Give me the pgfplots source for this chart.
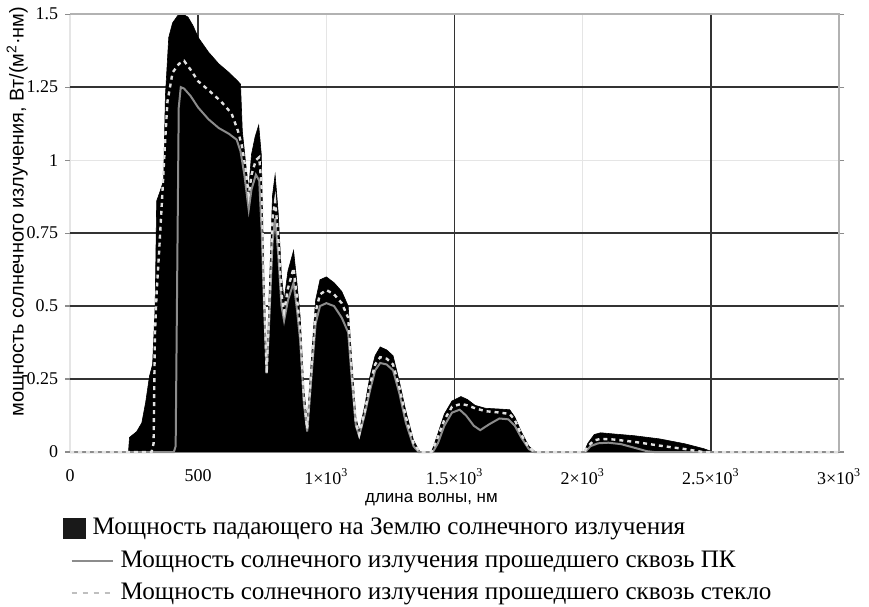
\documentclass[border=0pt]{standalone}
\usepackage{fontspec}
\setmainfont{Liberation Serif}
\setsansfont{Liberation Sans}
\usepackage{pgfplots}
\usepackage{pgfplotstable}
\pgfplotsset{compat=1.18}
\usetikzlibrary{calc}

% Solar spectral irradiance at ground level, W/(m^2 nm)
\pgfplotstableread{
x y
0 0
228 0
232 0.05
260 0.07
280 0.10
295 0.17
310 0.26
322 0.30
332 0.50
338 0.86
350 0.89
365 0.93
372 1.22
385 1.42
400 1.47
420 1.495
440 1.50
460 1.49
480 1.46
500 1.42
540 1.37
580 1.33
620 1.30
655 1.27
665 1.26
672 1.10
685 0.99
697 0.90
708 1.02
722 1.08
736 1.12
746 1.02
756 0.62
767 0.29
777 0.55
790 0.88
800 0.95
812 0.82
825 0.60
835 0.52
850 0.62
872 0.69
885 0.58
898 0.46
912 0.22
925 0.10
940 0.30
958 0.52
975 0.59
1000 0.60
1030 0.58
1060 0.55
1085 0.50
1100 0.30
1115 0.12
1128 0.07
1150 0.16
1170 0.26
1190 0.33
1210 0.36
1235 0.35
1260 0.33
1285 0.24
1310 0.14
1340 0.04
1365 0
1410 0
1430 0.05
1460 0.13
1490 0.175
1525 0.19
1550 0.18
1580 0.16
1620 0.15
1680 0.147
1715 0.145
1735 0.12
1760 0.07
1790 0.02
1815 0
2005 0
2020 0.03
2045 0.06
2070 0.066
2120 0.062
2200 0.056
2300 0.045
2400 0.028
2470 0.012
2510 0
3000 0
}\sun

% Transmitted through glass
\pgfplotstableread{
x y
0 0
318 0
326 0.03
331 0.40
338 0.55
347 0.68
358 0.85
370 1.05
380 1.20
400 1.30
425 1.33
445 1.34
470 1.31
500 1.27
540 1.24
590 1.20
630 1.16
655 1.10
670 1.05
685 0.97
697 0.88
708 0.95
725 1.00
738 1.01
748 0.90
757 0.55
767 0.27
777 0.50
790 0.80
800 0.86
812 0.74
825 0.54
835 0.48
850 0.56
872 0.63
885 0.53
898 0.42
912 0.19
925 0.08
940 0.27
958 0.48
975 0.54
1000 0.555
1030 0.54
1060 0.51
1085 0.46
1100 0.27
1115 0.10
1128 0.06
1150 0.14
1170 0.23
1190 0.30
1210 0.325
1235 0.32
1260 0.30
1285 0.22
1310 0.12
1340 0.03
1365 0
1410 0
1430 0.04
1460 0.11
1490 0.155
1525 0.165
1550 0.16
1580 0.15
1620 0.14
1680 0.135
1715 0.13
1735 0.11
1760 0.06
1790 0.015
1815 0
2005 0
2020 0.02
2045 0.04
2070 0.045
2120 0.043
2200 0.035
2300 0.022
2400 0.01
2470 0
3000 0
}\glass

% Transmitted through polycarbonate
\pgfplotstableread{
x y
0 0
405 0
412 0.02
418 0.60
424 1.18
432 1.25
445 1.245
470 1.22
500 1.18
540 1.14
580 1.11
620 1.09
650 1.07
665 1.03
680 0.95
697 0.83
708 0.90
725 0.95
738 0.93
748 0.75
757 0.50
767 0.27
777 0.45
790 0.72
800 0.80
812 0.68
825 0.50
835 0.45
850 0.52
872 0.58
885 0.49
898 0.38
912 0.17
925 0.07
940 0.24
958 0.44
975 0.50
1000 0.51
1030 0.50
1060 0.46
1085 0.41
1100 0.24
1115 0.09
1128 0.055
1150 0.13
1170 0.21
1190 0.28
1210 0.305
1235 0.30
1260 0.28
1285 0.20
1310 0.10
1340 0.02
1360 0
1415 0
1435 0.03
1460 0.09
1490 0.135
1520 0.145
1545 0.125
1575 0.09
1600 0.075
1635 0.095
1675 0.115
1710 0.112
1735 0.09
1760 0.05
1790 0.01
1810 0
2010 0
2030 0.02
2060 0.03
2100 0.032
2150 0.027
2200 0.015
2250 0.003
2280 0
3000 0
}\pc

\begin{document}
\begin{tikzpicture}
\begin{axis}[
  scale only axis,
  width=385.5pt, height=219.5pt,
  xmin=0, xmax=3000, ymin=0, ymax=1.5,
  axis line style={draw=none},
  xtick={0,500,1000,1500,2000,2500,3000},
  xticklabels={0,500,1×10\textsuperscript{3},1.5×10\textsuperscript{3},2×10\textsuperscript{3},2.5×10\textsuperscript{3},3×10\textsuperscript{3}},
  ytick={0,0.25,0.5,0.75,1,1.25,1.5},
  yticklabels={0,0.25,0.5,0.75,1,1.25,1.5},
  tick align=outside,
  major tick length=2.5pt,
  xtick style={draw=none},
  ytick style={draw=black!45, line width=0.6pt},
  grid=major,
  major grid style={black!10, line width=0.6pt},
  extra x ticks={500,1500,2500},
  extra x tick labels={},
  extra x tick style={grid=major, major grid style={black!80, line width=0.8pt}},
  extra y ticks={0.25,0.5,0.75,1.25},
  extra y tick labels={},
  extra y tick style={grid=major, major grid style={black!80, line width=0.8pt}},
  tick label style={font=\fontsize{9}{10}\selectfont},
  xticklabel style={yshift=-2.5pt},
  xlabel={длина волны, нм},
  xlabel style={font=\sffamily\fontsize{8.5}{10}\selectfont, at={(axis description cs:0.47,0)}, anchor=north, yshift=-17pt},
  ylabel={мощность солнечного излучения, Вт/(м\textsuperscript{2}·нм)},
  ylabel style={font=\sffamily\fontsize{10}{12}\selectfont, at={(axis description cs:-0.0687,0.549)}, anchor=center},
  legend style={at={(axis description cs:0,0)}, anchor=north west, xshift=-3.5pt, yshift=-31pt,
    draw=none, fill=none, font=\fontsize{12.6}{14}\selectfont, row sep=2.5pt, inner sep=0pt},
  legend cell align=left,
  clip=false,
]
\addplot[fill=black, draw=black, line width=0.3pt,
  legend image code/.code={\fill[black!90] (0pt,-5pt) rectangle (11pt,5pt);}]
  table[x=x, y=y] {\sun} \closedcycle;
\addlegendentry{\hspace*{-12.5pt}Мощность падающего на Землю солнечного излучения}
\addplot[draw=black!45, line width=1pt,
  legend image code/.code={\draw[black!45, line width=1pt] (4pt,0pt) -- (24.5pt,0pt);}]
  table[x=x, y=y] {\pc};
\addlegendentry{\hspace*{1.5pt}Мощность солнечного излучения прошедшего сквозь ПК}
\addplot[draw=black!12, line width=1.2pt, dash pattern=on 2pt off 2pt,
  legend image code/.code={\draw[black!25, line width=1pt, dash pattern=on 2.5pt off 3pt] (4pt,0pt) -- (24.5pt,0pt);}]
  table[x=x, y=y] {\glass};
\addlegendentry{\hspace*{1.5pt}Мощность солнечного излучения прошедшего сквозь стекло}
\draw[black!30, line width=0.9pt] (rel axis cs:0,1) -- (rel axis cs:1,1) -- (rel axis cs:1,0);
\end{axis}
\path[use as bounding box] ($(current axis.south west)+(-34pt,-76.5pt)$) rectangle ($(current axis.north east)+(15pt,5.5pt)$);
\end{tikzpicture}
\end{document}
